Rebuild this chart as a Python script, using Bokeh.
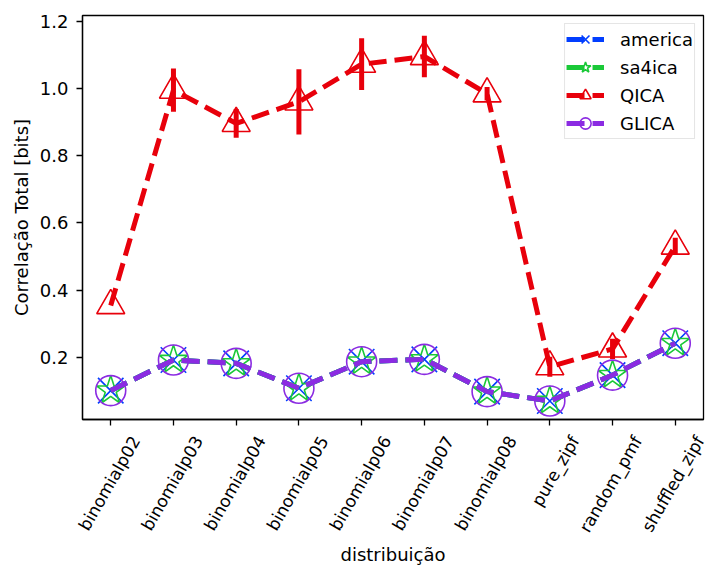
import math
from bokeh.plotting import figure
from bokeh.models import (FixedTicker, Range1d, Legend, LegendItem,
                          PrintfTickFormatter, LinearAxis, CustomLabelingPolicy)
from bokeh.embed import file_html
from bokeh.resources import INLINE

categories = ["binomialp02", "binomialp03", "binomialp04", "binomialp05",
              "binomialp06", "binomialp07", "binomialp08", "pure_zipf",
              "random_pmf", "shuffled_zipf"]
america = [0.101, 0.192, 0.182, 0.108, 0.187, 0.194, 0.098, 0.070, 0.147, 0.242]
sa4ica = [0.101, 0.192, 0.182, 0.108, 0.187, 0.194, 0.098, 0.070, 0.147, 0.242]
qica = [0.354, 0.995, 0.896, 0.960, 1.072, 1.095, 0.984, 0.172, 0.225, 0.531]
qica_err = [0.0, 0.064, 0.043, 0.097, 0.077, 0.062, 0.02, 0.03, 0.03, 0.025]
glica = [0.101, 0.192, 0.182, 0.108, 0.187, 0.194, 0.098, 0.070, 0.147, 0.242]
yticks = [0.2, 0.4, 0.6, 0.8, 1.0, 1.2]

FONT = "DejaVu Sans"
FS = "18px"

xs = list(range(len(categories)))

p = figure(width=708, height=569, output_backend="svg", toolbar_location=None,
           x_range=Range1d(-0.45, 9.45), y_range=Range1d(0.015, 1.217),
           min_border_left=82, min_border_right=5, min_border_top=15,
           min_border_bottom=150)
p.xgrid.visible = False
p.ygrid.visible = False
p.outline_line_color = "black"
p.outline_line_width = 1.3
p.background_fill_color = "white"
p.border_fill_color = "white"

# primary x axis: tick marks only (labels filtered out)
xa = p.xaxis[0]
xa.ticker = FixedTicker(ticks=xs)
xa.major_label_policy = CustomLabelingPolicy(
    code="const all = [...indices]; for (const i of all) indices.unset(i); return indices")
xa.major_label_standoff = 0
xa.major_tick_out = 6
xa.major_tick_in = 0
xa.minor_tick_line_color = None
xa.axis_line_color = "black"
xa.axis_line_width = 1.3
xa.major_tick_line_width = 1.3

# label axis shifted so rotated labels are centred on the ticks
shift = 0.40
p.extra_x_ranges = {"lab": Range1d(-0.45 - shift, 9.45 - shift)}
la = LinearAxis(x_range_name="lab", ticker=FixedTicker(ticks=xs),
                major_label_overrides={i: c for i, c in enumerate(categories)},
                major_label_orientation=math.pi / 3,
                axis_label="distribuição")
la.axis_line_color = None
la.major_tick_line_color = None
la.minor_tick_line_color = None
la.major_tick_out = 0
la.major_label_standoff = 1
la.major_label_text_font = FONT
la.major_label_text_font_size = "17px"
la.major_label_text_color = "black"
la.axis_label_text_font = FONT
la.axis_label_text_font_size = FS
la.axis_label_text_font_style = "normal"
la.axis_label_text_color = "black"
la.axis_label_standoff = 0
p.add_layout(la, "below")

ya = p.yaxis[0]
ya.ticker = FixedTicker(ticks=yticks)
ya.formatter = PrintfTickFormatter(format="%.1f")
ya.axis_label = "Correlação Total [bits]"
ya.major_tick_out = 6
ya.major_tick_in = 0
ya.minor_tick_line_color = None
ya.axis_line_color = "black"
ya.axis_line_width = 1.3
ya.major_tick_line_width = 1.3
ya.major_label_standoff = 8
ya.major_label_text_font = FONT
ya.major_label_text_font_size = FS
ya.major_label_text_color = "black"
ya.axis_label_text_font = FONT
ya.axis_label_text_font_size = FS
ya.axis_label_text_font_style = "normal"
ya.axis_label_text_color = "black"
ya.axis_label_standoff = 5

DASH = "18 8"
LW = 5

series = [
    ("america", america, None, "#023eff", "x", 36),
    ("sa4ica", sa4ica, None, "#1ac938", "star", 30),
    ("QICA", qica, qica_err, "#e8000b", "triangle", 28),
    ("GLICA", glica, None, "#8b2be2", "circle", 30),
]

items = []
for name, ys, err, col, mk, sz in series:
    ln = p.line(xs, ys, line_color=col, line_width=LW, line_dash=DASH)
    rs = [ln]
    if err is not None:
        lo = [v - e for v, e in zip(ys, err)]
        hi = [v + e for v, e in zip(ys, err)]
        p.segment(x0=xs, y0=lo, x1=xs, y1=hi, line_color=col, line_width=LW)
    sc = p.scatter(xs, ys, marker=mk, size=sz, fill_color=None,
                   line_color=col, line_width=1.6)
    rs.append(sc)
    items.append(LegendItem(label=name, renderers=rs))

legend = Legend(items=items, location="top_right")
legend.label_text_font = FONT
legend.label_text_font_size = "18px"
legend.label_text_color = "black"
legend.glyph_width = 38
legend.glyph_height = 28
legend.label_height = 28
legend.spacing = 0
legend.padding = 1
legend.margin = 8
legend.label_standoff = 16
legend.border_line_color = "#cccccc"
legend.border_line_width = 1.3
legend.background_fill_alpha = 0.8
p.add_layout(legend)

open("out.html", "w").write(file_html(p, INLINE))
